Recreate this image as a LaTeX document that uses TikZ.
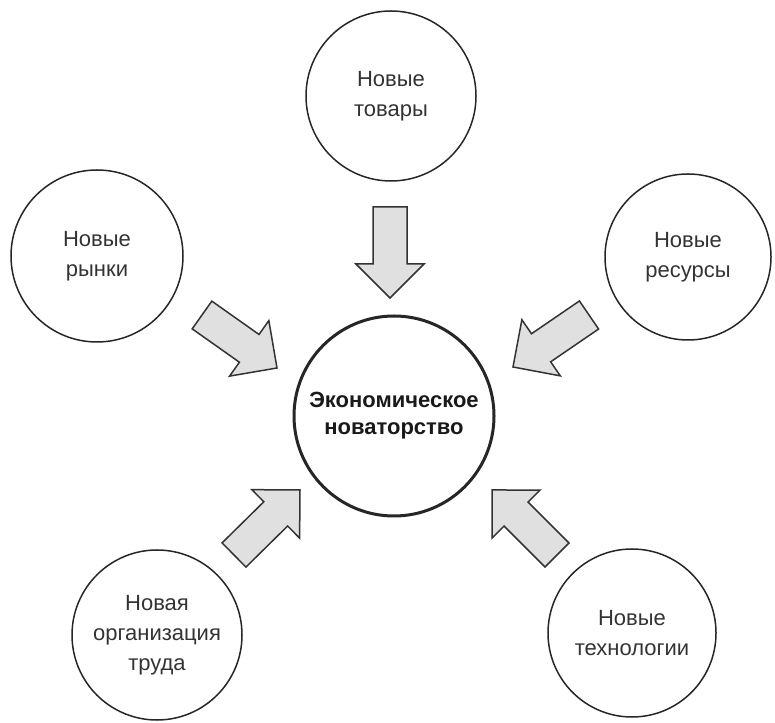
\documentclass[tikz,border=0pt]{standalone}
\usepackage{fontspec}
\setmainfont{Liberation Sans}
\usetikzlibrary{calc}

\newcommand\fatarrow[2]{%
  \filldraw[bigarrow] let \p1=($(#2)-(#1)$), \n1={atan2(\y1,\x1)}, \n2={veclen(\x1,\y1)-34} in
    ($(#1)+({\n1+90}:17)$) -- ++(\n1:\n2) -- ++({\n1+90}:17) -- (#2)
    -- ($(#1)+(\n1:\n2)+({\n1-90}:34)$) -- ++({\n1+90}:17) -- ++({\n1+180}:\n2) -- cycle;}

\begin{document}
\begin{tikzpicture}[x=1pt,y=1pt,
	idea/.style={circle,draw=black!85,line width=1.5pt,minimum size=170pt,inner sep=0pt,align=center,text=black!80,font=\fontsize{22}{30}\selectfont},
	bigarrow/.style={draw=black!80,line width=1.5pt,fill=black!12,line join=miter}]
	\useasboundingbox (0,0) rectangle (775,722);
	
	\node[idea] (tovary) at (391,626) {Новые\\товары};
	\node[idea,minimum size=172pt] (rynki) at (97,466) {Новые\\рынки};
	\node[idea,minimum size=166pt] (resursy) at (688,465) {Новые\\ресурсы};
	\node[idea] (orgtruda) at (157,87) {Новая\\организация\\труда};
	\node[idea,minimum size=168pt] (tekhnologii) at (632,89) {Новые\\технологии};
	
	\node[idea,line width=3pt,minimum size=200pt,text=black!90,font=\bfseries\fontsize{22}{27}\selectfont] (novatorstvo) at (394,306) {Экономическое\\новаторство};
	
	\coordinate (s1) at (390,515); \coordinate (e1) at (390,424);
	\coordinate (s2) at (202,407); \coordinate (e2) at (277,354);
	\coordinate (s3) at (589,407); \coordinate (e3) at (513,355);
	\coordinate (s4) at (234,167); \coordinate (e4) at (300,232);
	\coordinate (s5) at (557,167); \coordinate (e5) at (492,232);
	\foreach \s/\e in {s1/e1,s2/e2,s3/e3,s4/e4,s5/e5} {\fatarrow{\s}{\e}}
\end{tikzpicture}
\end{document}
